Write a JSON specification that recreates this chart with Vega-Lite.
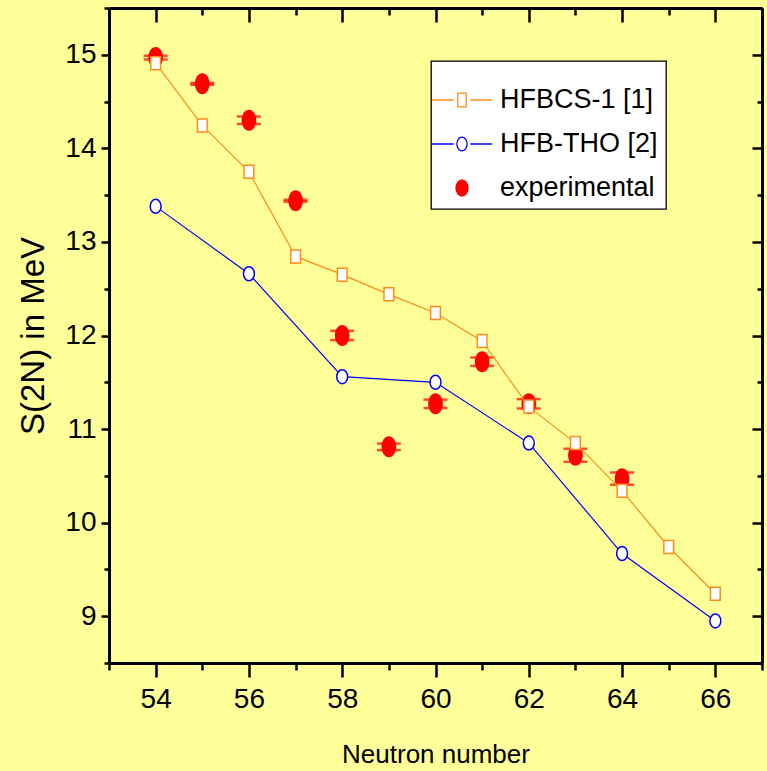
{
  "$schema": "https://vega.github.io/schema/vega-lite/v6.json",
  "width": 653,
  "height": 655,
  "autosize": {"type": "none"},
  "padding": {"left": 109, "top": 8, "right": 5, "bottom": 108},
  "background": "#FFFF99",
  "datasets": {
    "models": [
      {"n": 54, "s2n": 14.91, "series": "HFBCS-1 [1]"},
      {"n": 55, "s2n": 14.245, "series": "HFBCS-1 [1]"},
      {"n": 56, "s2n": 13.75, "series": "HFBCS-1 [1]"},
      {"n": 57, "s2n": 12.845, "series": "HFBCS-1 [1]"},
      {"n": 58, "s2n": 12.65, "series": "HFBCS-1 [1]"},
      {"n": 59, "s2n": 12.44, "series": "HFBCS-1 [1]"},
      {"n": 60, "s2n": 12.24, "series": "HFBCS-1 [1]"},
      {"n": 61, "s2n": 11.94, "series": "HFBCS-1 [1]"},
      {"n": 62, "s2n": 11.24, "series": "HFBCS-1 [1]"},
      {"n": 63, "s2n": 10.85, "series": "HFBCS-1 [1]"},
      {"n": 64, "s2n": 10.34, "series": "HFBCS-1 [1]"},
      {"n": 65, "s2n": 9.74, "series": "HFBCS-1 [1]"},
      {"n": 66, "s2n": 9.24, "series": "HFBCS-1 [1]"},
      {"n": 54, "s2n": 13.38, "series": "HFB-THO [2]"},
      {"n": 56, "s2n": 12.66, "series": "HFB-THO [2]"},
      {"n": 58, "s2n": 11.56, "series": "HFB-THO [2]"},
      {"n": 60, "s2n": 11.5, "series": "HFB-THO [2]"},
      {"n": 62, "s2n": 10.85, "series": "HFB-THO [2]"},
      {"n": 64, "s2n": 9.67, "series": "HFB-THO [2]"},
      {"n": 66, "s2n": 8.95, "series": "HFB-THO [2]"}
    ],
    "exp": [
      {"n": 54, "s2n": 14.97, "err": 0.02, "series": "experimental"},
      {"n": 55, "s2n": 14.69, "err": 0.01, "series": "experimental"},
      {"n": 56, "s2n": 14.3, "err": 0.04, "series": "experimental"},
      {"n": 57, "s2n": 13.44, "err": 0.01, "series": "experimental"},
      {"n": 58, "s2n": 12.0, "err": 0.05, "series": "experimental"},
      {"n": 59, "s2n": 10.81, "err": 0.035, "series": "experimental"},
      {"n": 60, "s2n": 11.27, "err": 0.045, "series": "experimental"},
      {"n": 61, "s2n": 11.72, "err": 0.045, "series": "experimental"},
      {"n": 62, "s2n": 11.27, "err": 0.05, "series": "experimental"},
      {"n": 63, "s2n": 10.72, "err": 0.07, "series": "experimental"},
      {"n": 64, "s2n": 10.47, "err": 0.065, "series": "experimental"}
    ]
  },
  "layer": [
    {
      "encoding": {
        "x": {
          "field": "n", "type": "quantitative",
          "scale": {"domain": [53, 67], "nice": false, "zero": false},
          "axis": {
            "title": "Neutron number",
            "orient": "bottom",
            "values": [53, 54, 55, 56, 57, 58, 59, 60, 61, 62, 63, 64, 65, 66, 67],
            "tickSize": {"condition": {"test": "datum.value % 2 === 0", "value": 14}, "value": 7},
            "labelExpr": "datum.value % 2 === 0 ? format(datum.value, '.0f') : ''",
            "labelPadding": 8,
            "titlePadding": 28,
            "titleFontSize": 26
          }
        },
        "y": {
          "field": "s2n", "type": "quantitative",
          "scale": {"domain": [8.5, 15.5], "nice": false, "zero": false},
          "axis": {
            "title": "S(2N) in MeV",
            "orient": "left",
            "values": [8.5, 9, 9.5, 10, 10.5, 11, 11.5, 12, 12.5, 13, 13.5, 14, 14.5, 15, 15.5],
            "tickSize": {"condition": {"test": "datum.value % 1 === 0", "value": 8}, "value": 5},
            "labelExpr": "datum.value % 1 === 0 ? format(datum.value, '.0f') : ''",
            "labelPadding": 5,
            "titlePadding": 14,
            "titleFontSize": 33
          }
        }
      },
      "layer": [
        {
          "data": {"name": "exp"},
          "mark": {"type": "errorbar", "color": "#FF0000", "thickness": 2.5, "ticks": {"size": 24, "thickness": 2.5, "color": "#FF0000"}},
          "encoding": {"yError": {"field": "err"}}
        },
        {
          "data": {"name": "exp"},
          "mark": {"type": "point", "shape": "M0,-1A0.7,1 0 1,1 0,1A0.7,1 0 1,1 0,-1Z", "size": 441, "filled": true, "fill": "#FF0000", "stroke": null, "opacity": 1}
        },
        {
          "data": {"name": "models"},
          "mark": {"type": "line", "strokeWidth": 1.2},
          "encoding": {
            "color": {
              "field": "series", "type": "nominal",
              "scale": {"domain": ["HFBCS-1 [1]", "HFB-THO [2]", "experimental"], "range": ["#FF8C1A", "#0000FF", "#FF0000"]},
              "legend": {
                "title": null,
                "orient": "none",
                "legendX": 322,
                "legendY": 53,
                "symbolSize": 3600,
                "symbolOffset": -8,
                "labelOffset": 7,
                "padding": 8,
                "rowPadding": -2,
                "fillColor": "#FFFFFF",
                "strokeColor": "#000000",
                "labelFont": "Liberation Sans",
                "labelFontSize": 27,
                "labelColor": "#000000",
                "labelLimit": 400,
                "encode": {
                  "symbols": {
                    "update": {
                      "shape": {"signal": "datum.value === 'HFBCS-1 [1]' ? 'M-1,0L-0.28,0M0.28,0L1,0M-0.14,-0.23L0.14,-0.23L0.14,0.23L-0.14,0.23Z' : datum.value === 'HFB-THO [2]' ? 'M-1,0L-0.28,0M0.28,0L1,0M0,-0.23A0.17,0.23 0 1,1 0,0.23A0.17,0.23 0 1,1 0,-0.23Z' : 'M0,-0.27A0.2,0.27 0 1,1 0,0.27A0.2,0.27 0 1,1 0,-0.27Z'"},
                      "fill": {"signal": "datum.value === 'experimental' ? '#FF0000' : '#FFFFFF'"},
                      "stroke": {"signal": "datum.value === 'HFBCS-1 [1]' ? '#FF8C1A' : datum.value === 'HFB-THO [2]' ? '#0000FF' : '#FF0000'"},
                      "strokeWidth": {"value": 1.3},
                      "opacity": {"value": 1}
                    }
                  }
                }
              }
            }
          }
        },
        {
          "data": {"name": "models"},
          "transform": [{"filter": "datum.series === 'HFBCS-1 [1]'"}],
          "mark": {"type": "point", "shape": "M-0.75,-1L0.75,-1L0.75,1L-0.75,1Z", "size": 169, "filled": true, "fill": "#FFFFFF", "stroke": "#FF8C1A", "strokeWidth": 1.5, "opacity": 1}
        },
        {
          "data": {"name": "models"},
          "transform": [{"filter": "datum.series === 'HFB-THO [2]'"}],
          "mark": {"type": "point", "shape": "M0,-1A0.78,1 0 1,1 0,1A0.78,1 0 1,1 0,-1Z", "size": 196, "filled": true, "fill": "#FFFFFF", "stroke": "#0000FF", "strokeWidth": 1.5, "opacity": 1}
        }
      ]
    },
    {
      "data": {"name": "models"},
      "mark": {"type": "point", "opacity": 0},
      "encoding": {
        "x": {
          "field": "n", "type": "quantitative",
          "scale": {"domain": [53, 67], "nice": false, "zero": false},
          "axis": {
            "title": null,
            "orient": "top",
            "labels": false,
            "values": [53, 54, 55, 56, 57, 58, 59, 60, 61, 62, 63, 64, 65, 66, 67],
            "tickSize": {"condition": {"test": "datum.value % 2 === 0", "value": -14}, "value": -7}
          }
        },
        "y": {
          "field": "s2n", "type": "quantitative",
          "scale": {"domain": [8.5, 15.5], "nice": false, "zero": false},
          "axis": {
            "title": null,
            "orient": "right",
            "labels": false,
            "values": [8.5, 9, 9.5, 10, 10.5, 11, 11.5, 12, 12.5, 13, 13.5, 14, 14.5, 15, 15.5],
            "tickSize": {"condition": {"test": "datum.value % 1 === 0", "value": -10}, "value": -5}
          }
        }
      }
    }
  ],
  "resolve": {"scale": {"x": "independent", "y": "independent"}},
  "config": {
    "view": {"stroke": null},
    "tick": {"bandSize": 24, "thickness": 2.5},
    "axis": {
      "grid": false,
      "domainColor": "#000000",
      "domainWidth": 3,
      "tickColor": "#000000",
      "tickWidth": 2.5,
      "labelColor": "#000000",
      "labelFont": "Liberation Sans",
      "labelFontSize": 28,
      "labelOverlap": false,
      "labelFlush": false,
      "titleColor": "#000000",
      "titleFont": "Liberation Sans",
      "titleFontSize": 26,
      "titleFontWeight": "normal"
    },
    "legend": {"strokeWidth": 1.3}
  }
}
